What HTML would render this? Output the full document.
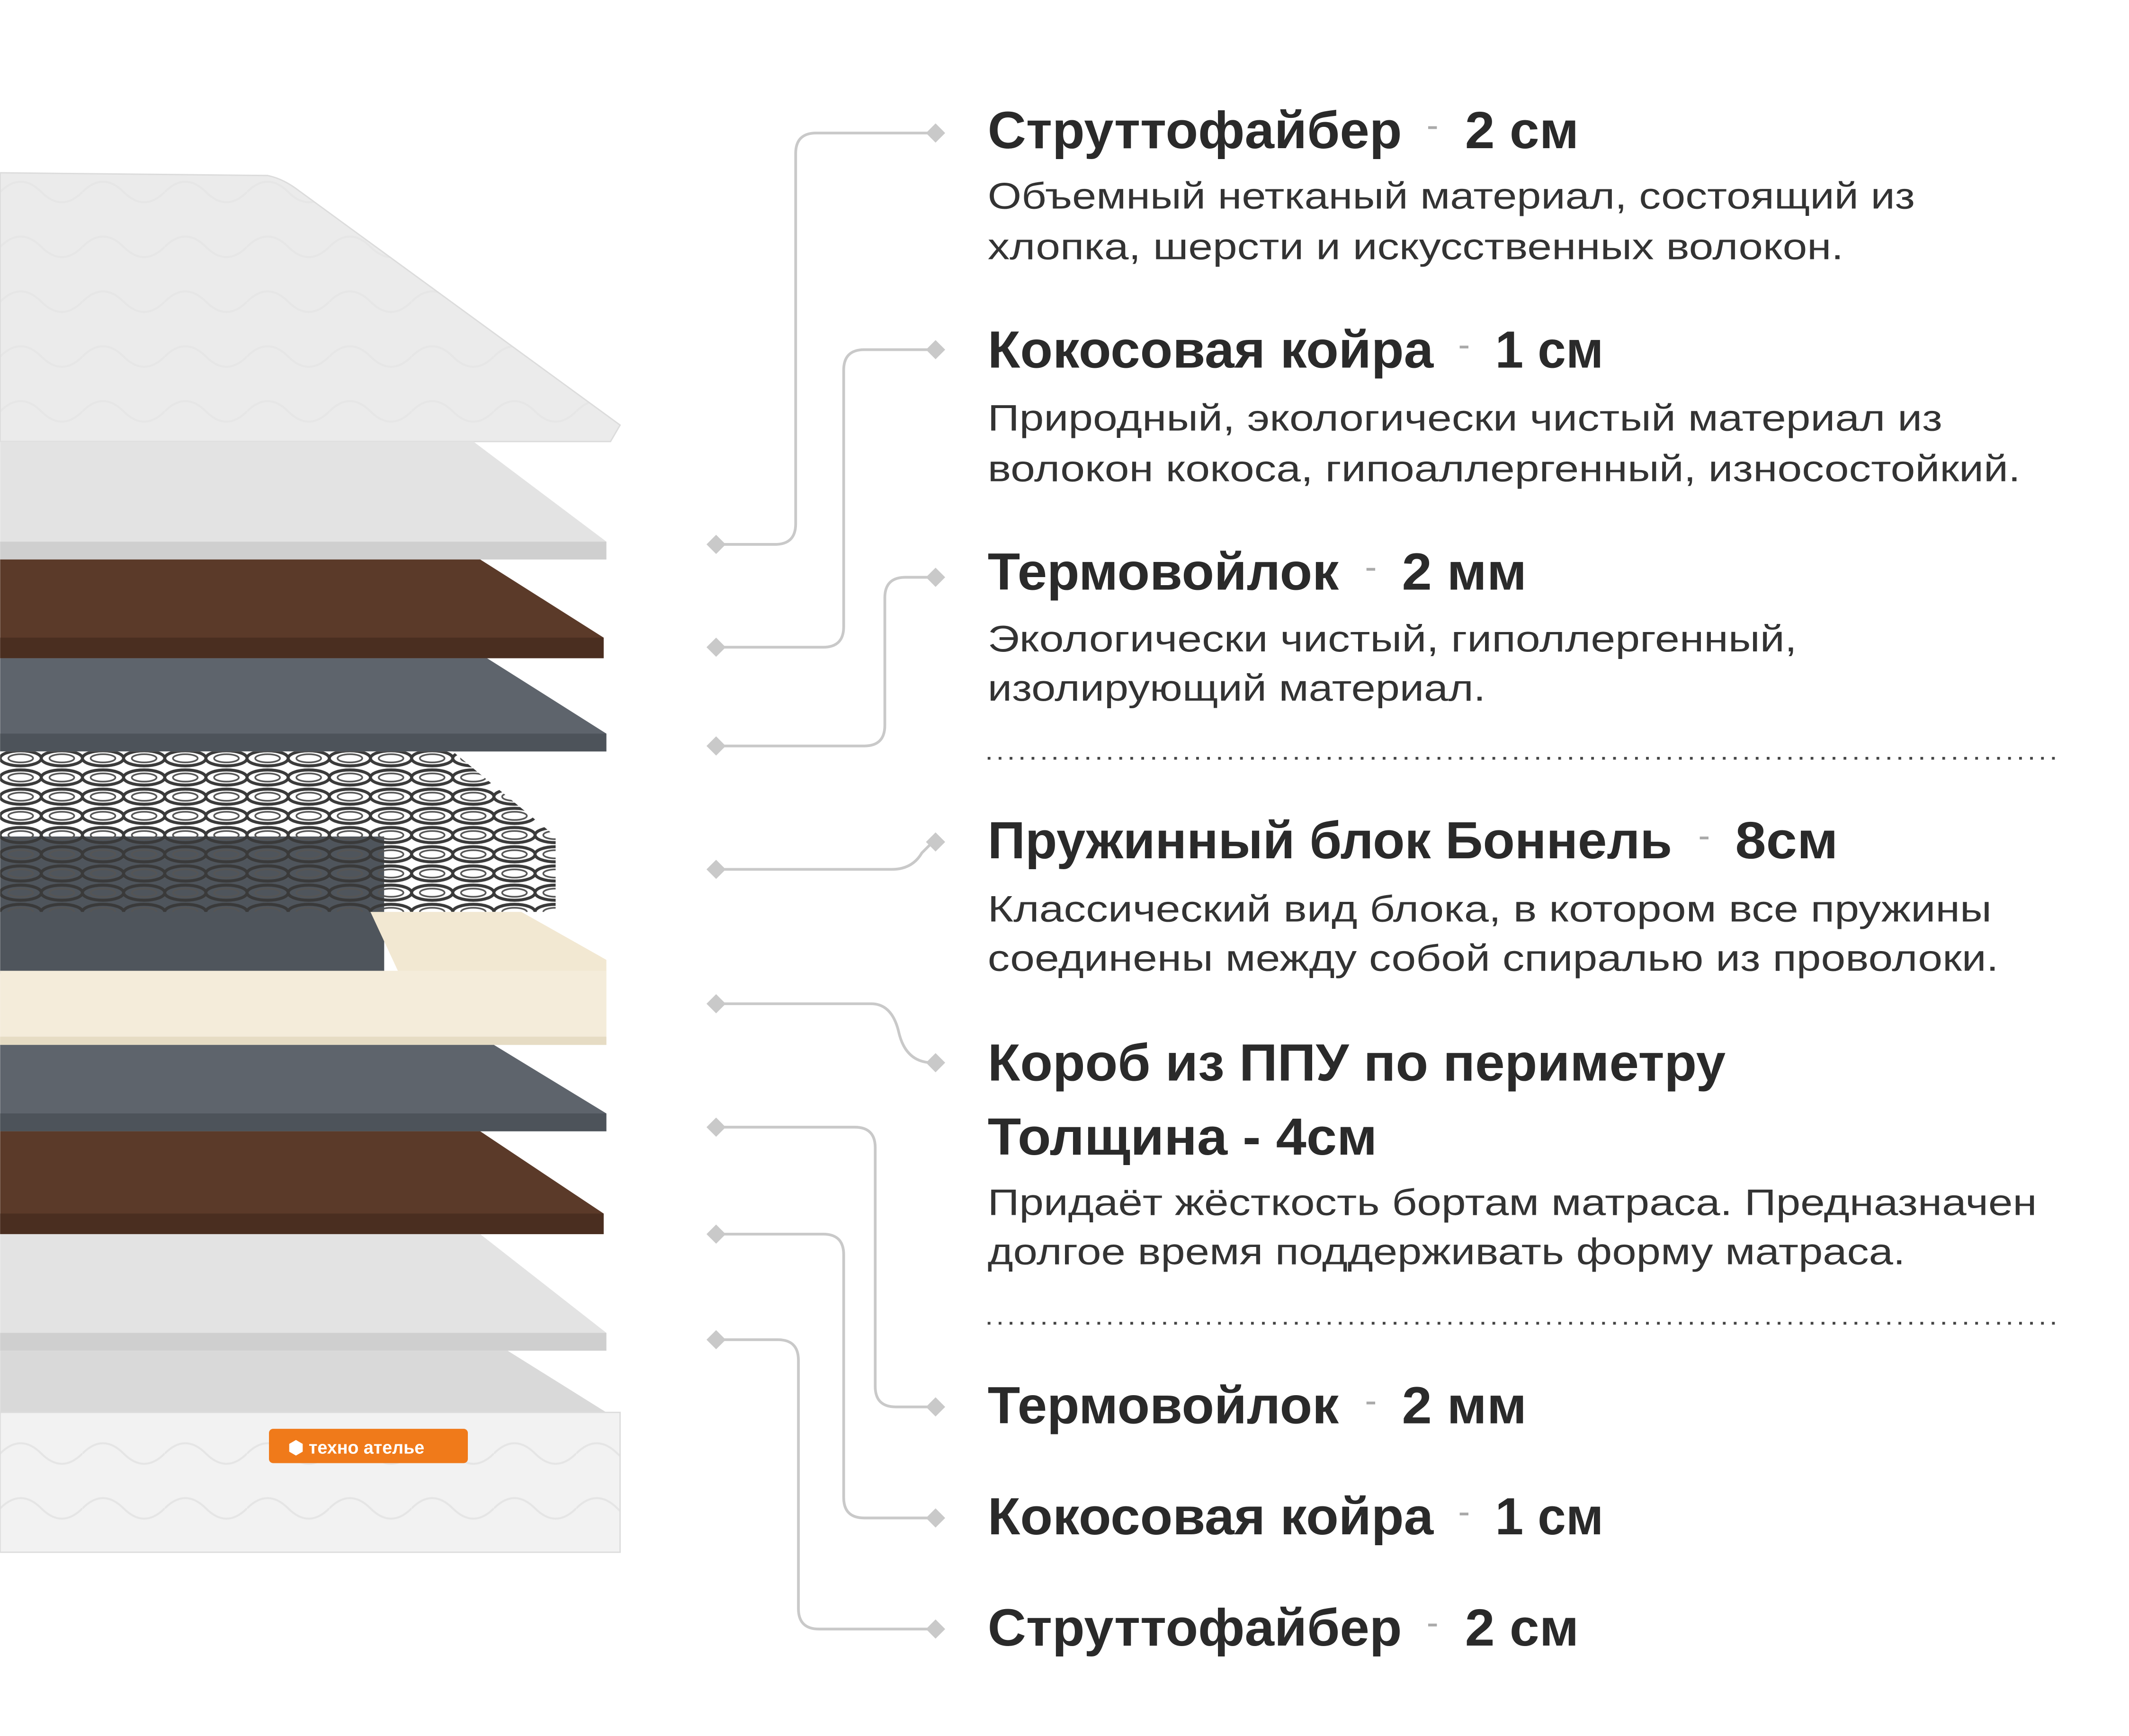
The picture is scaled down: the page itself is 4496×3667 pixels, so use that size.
<!DOCTYPE html>
<html><head><meta charset="utf-8"><style>
html,body{margin:0;padding:0;background:#fff;}
svg{display:block}
.t{font-family:"Liberation Sans","Noto Sans CJK SC",sans-serif;font-weight:bold;font-size:38px;fill:#2a2a2a}
.d{font-family:"Liberation Sans","Noto Sans CJK SC",sans-serif;font-size:27px;fill:#333}
.dash{font-family:"Liberation Sans",sans-serif;font-size:26px;fill:#aaa}
.c{fill:none;stroke:#c9c9c9;stroke-width:2}
.dm{fill:#c9c9c9}
</style></head><body>
<svg width="4496" height="3667" viewBox="0 0 1552 1266" xmlns="http://www.w3.org/2000/svg">
<defs>
<pattern id="sp" width="30" height="14" patternUnits="userSpaceOnUse">
<ellipse cx="15" cy="7" rx="15" ry="5.5" fill="none" stroke="#3a3a3a" stroke-width="2.2"/>
<ellipse cx="15" cy="7" rx="9" ry="3" fill="none" stroke="#555" stroke-width="1.2"/>
</pattern>
<pattern id="qt" width="60" height="40" patternUnits="userSpaceOnUse">
<path d="M0 20 Q15 5 30 20 T60 20" fill="none" stroke="#ddd" stroke-width="1.5"/>
</pattern>
</defs>
<rect width="1552" height="1266" fill="#fff"/>
<!-- top cover -->
<path d="M0 126 L195 128 Q205 130 215 137 L452 310 L445 322 L0 322 Z" fill="#ebebeb" stroke="#dcdcdc"/>
<path d="M0 126 L195 128 Q205 130 215 137 L452 310 L445 322 L0 322 Z" fill="url(#qt)" opacity="0.35"/>
<!-- struttofiber -->
<path d="M0 322 L345 322 L442 395 L442 408 L0 408 Z" fill="#e3e3e3"/>
<rect x="0" y="395" width="442" height="13" fill="#cfcfcf"/>
<!-- coconut -->
<path d="M0 408 L350 408 L440 465 L440 480 L0 480 Z" fill="#5b3a29"/>
<rect x="0" y="465" width="440" height="15" fill="#4a2e20"/>
<!-- felt -->
<path d="M0 480 L355 480 L442 535 L442 548 L0 548 Z" fill="#5e646c"/>
<rect x="0" y="535" width="442" height="13" fill="#4d535a"/>
<!-- felt under springs -->
<rect x="0" y="610" width="280" height="100" fill="#4f555c"/>
<!-- springs -->
<path d="M0 548 L330 548 L405 610 L405 665 L280 665 L280 610 L0 610 Z" fill="#fff"/>
<path d="M0 548 L330 548 L405 610 L405 665 L0 665 Z" fill="url(#sp)"/>
<!-- foam box -->
<path d="M270 665 L380 665 L442 700 L442 762 L0 762 L0 708 L290 708 Z" fill="#f2e8d2"/>
<rect x="0" y="708" width="442" height="54" fill="#f4ecda"/>
<rect x="0" y="756" width="442" height="6" fill="#e6dcc4"/>
<!-- felt -->
<path d="M0 762 L360 762 L442 812 L442 825 L0 825 Z" fill="#5e646c"/>
<rect x="0" y="812" width="442" height="13" fill="#4d535a"/>
<!-- coconut -->
<path d="M0 825 L350 825 L440 885 L440 900 L0 900 Z" fill="#5b3a29"/>
<rect x="0" y="885" width="440" height="15" fill="#4a2e20"/>
<!-- struttofiber -->
<path d="M0 900 L350 900 L442 972 L442 985 L0 985 Z" fill="#e3e3e3"/>
<rect x="0" y="972" width="442" height="13" fill="#cfcfcf"/>
<!-- bottom cover -->
<path d="M0 985 L370 985 L442 1030 L0 1030 Z" fill="#d9d9d9"/>
<rect x="0" y="1030" width="452" height="102" fill="#f2f2f2" stroke="#ddd"/>
<rect x="0" y="1030" width="452" height="102" fill="url(#qt)" opacity="0.6"/>
<rect x="196" y="1042" width="145" height="25" rx="3" fill="#f07a1a"/>
<text x="210" y="1060" font-family="Liberation Sans,sans-serif" font-size="13" fill="#fff" font-weight="bold">⬢ техно ателье</text>
<!-- connectors -->
<path class="c" d="M522 397 H565 Q580 397 580 382 V112 Q580 97 595 97 H680"/>
<path class="c" d="M522 472 H600 Q615 472 615 457 V270 Q615 255 630 255 H680"/>
<path class="c" d="M522 544 H630 Q645 544 645 529 V436 Q645 421 660 421 H680"/>
<path class="c" d="M522 634 H650 Q665 634 672 622 L680 614"/>
<path class="c" d="M522 732 H635 Q650 732 655 752 Q660 775 680 775"/>
<path class="c" d="M522 822 H623 Q638 822 638 837 V1011 Q638 1026 653 1026 H680"/>
<path class="c" d="M522 900 H600 Q615 900 615 915 V1092 Q615 1107 630 1107 H680"/>
<path class="c" d="M522 977 H567 Q582 977 582 992 V1173 Q582 1188 597 1188 H680"/>
<g class="dm">
<path d="M522 390 l7 7 -7 7 -7 -7z"/><path d="M682 90 l7 7 -7 7 -7 -7z"/>
<path d="M522 465 l7 7 -7 7 -7 -7z"/><path d="M682 248 l7 7 -7 7 -7 -7z"/>
<path d="M522 537 l7 7 -7 7 -7 -7z"/><path d="M682 414 l7 7 -7 7 -7 -7z"/>
<path d="M522 627 l7 7 -7 7 -7 -7z"/><path d="M682 607 l7 7 -7 7 -7 -7z"/>
<path d="M522 725 l7 7 -7 7 -7 -7z"/><path d="M682 768 l7 7 -7 7 -7 -7z"/>
<path d="M522 815 l7 7 -7 7 -7 -7z"/><path d="M682 1019 l7 7 -7 7 -7 -7z"/>
<path d="M522 893 l7 7 -7 7 -7 -7z"/><path d="M682 1100 l7 7 -7 7 -7 -7z"/>
<path d="M522 970 l7 7 -7 7 -7 -7z"/><path d="M682 1181 l7 7 -7 7 -7 -7z"/>
</g>
<!-- dotted separators -->
<line x1="720" y1="553" x2="1498" y2="553" stroke="#444" stroke-width="2" stroke-dasharray="2 6"/>
<line x1="720" y1="965" x2="1498" y2="965" stroke="#444" stroke-width="2" stroke-dasharray="2 6"/>
<!-- texts -->
<text class="t" x="720" y="108" textLength="302" lengthAdjust="spacingAndGlyphs">Струттофайбер</text>
<text class="dash" x="1040" y="100">-</text>
<text class="t" x="1068" y="108" textLength="83" lengthAdjust="spacingAndGlyphs">2 см</text>
<text class="d" x="720" y="152" textLength="676" lengthAdjust="spacingAndGlyphs">Объемный нетканый материал, состоящий из</text>
<text class="d" x="720" y="189" textLength="624" lengthAdjust="spacingAndGlyphs">хлопка, шерсти и искусственных волокон.</text>

<text class="t" x="720" y="268" textLength="325" lengthAdjust="spacingAndGlyphs">Кокосовая койра</text>
<text class="dash" x="1063" y="260">-</text>
<text class="t" x="1090" y="268" textLength="79" lengthAdjust="spacingAndGlyphs">1 см</text>
<text class="d" x="720" y="314" textLength="696" lengthAdjust="spacingAndGlyphs">Природный, экологически чистый материал из</text>
<text class="d" x="720" y="351" textLength="753" lengthAdjust="spacingAndGlyphs">волокон кокоса, гипоаллергенный, износостойкий.</text>

<text class="t" x="720" y="430" textLength="256" lengthAdjust="spacingAndGlyphs">Термовойлок</text>
<text class="dash" x="995" y="422">-</text>
<text class="t" x="1022" y="430" textLength="91" lengthAdjust="spacingAndGlyphs">2 мм</text>
<text class="d" x="720" y="475" textLength="590" lengthAdjust="spacingAndGlyphs">Экологически чистый, гиполлергенный,</text>
<text class="d" x="720" y="511" textLength="363" lengthAdjust="spacingAndGlyphs">изолирующий материал.</text>

<text class="t" x="720" y="626" textLength="499" lengthAdjust="spacingAndGlyphs">Пружинный блок Боннель</text>
<text class="dash" x="1238" y="618">-</text>
<text class="t" x="1265" y="626" textLength="75" lengthAdjust="spacingAndGlyphs">8см</text>
<text class="d" x="720" y="672" textLength="732" lengthAdjust="spacingAndGlyphs">Классический вид блока, в котором все пружины</text>
<text class="d" x="720" y="708" textLength="737" lengthAdjust="spacingAndGlyphs">соединены между собой спиралью из проволоки.</text>

<text class="t" x="720" y="788" textLength="538" lengthAdjust="spacingAndGlyphs">Короб из ППУ по периметру</text>
<text class="t" x="720" y="842" textLength="284" lengthAdjust="spacingAndGlyphs">Толщина - 4см</text>
<text class="d" x="720" y="886" textLength="765" lengthAdjust="spacingAndGlyphs">Придаёт жёсткость бортам матраса. Предназначен</text>
<text class="d" x="720" y="922" textLength="669" lengthAdjust="spacingAndGlyphs">долгое время поддерживать форму матраса.</text>

<text class="t" x="720" y="1038" textLength="256" lengthAdjust="spacingAndGlyphs">Термовойлок</text>
<text class="dash" x="995" y="1030">-</text>
<text class="t" x="1022" y="1038" textLength="91" lengthAdjust="spacingAndGlyphs">2 мм</text>

<text class="t" x="720" y="1119" textLength="325" lengthAdjust="spacingAndGlyphs">Кокосовая койра</text>
<text class="dash" x="1063" y="1111">-</text>
<text class="t" x="1090" y="1119" textLength="79" lengthAdjust="spacingAndGlyphs">1 см</text>

<text class="t" x="720" y="1200" textLength="302" lengthAdjust="spacingAndGlyphs">Струттофайбер</text>
<text class="dash" x="1040" y="1192">-</text>
<text class="t" x="1068" y="1200" textLength="83" lengthAdjust="spacingAndGlyphs">2 см</text>
</svg>
</body></html>
